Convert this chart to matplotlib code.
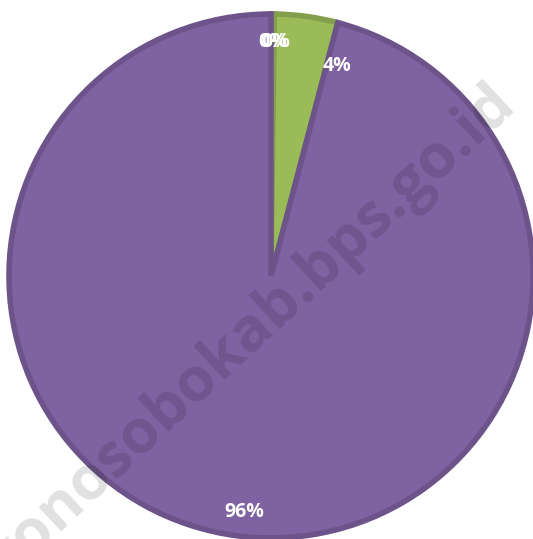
import numpy as np
import matplotlib
matplotlib.use('Agg')
import matplotlib.pyplot as plt
from matplotlib.colors import to_rgb

# Data.
categories = ['A', 'B', 'C', 'D']
values = [0.0, 0.2, 3.9, 95.9]
labels = ['0%', '0%', '4%', '96%']
colors = ['#4F81BD', '#C0504D', '#9BBB59', '#7F62A1']

W, H = 533, 539
cx, cy, R = 271, 276, 262

plt.rcParams['font.family'] = ['Open Sans', 'DejaVu Sans']

fig = plt.figure(figsize=(W / 100, H / 100), dpi=100)
ax = fig.add_axes([0, 0, 1, 1])
ax.axis('off')


def darker(c, f=0.85):
    r, g, b = to_rgb(c)
    return (r * f, g * f, b * f)


wedges, texts = ax.pie(values, colors=colors, startangle=90, counterclock=False,
                       radius=1, center=(0, 0), labels=labels, labeldistance=0.88,
                       wedgeprops=dict(linewidth=4),
                       textprops=dict(color='white', fontsize=14, fontweight='bold',
                                      ha='center', va='center'))
for w, c in zip(wedges, colors):
    w.set_edgecolor(darker(c))
wedges[0].set_edgecolor('none')

# Label placement roughly as in the original (Excel "best fit").
label_pos = [(0.008, 0.893), (0.018, 0.893), (0.252, 0.802), (-0.103, -0.901)]
for t, p in zip(texts, label_pos):
    t.set_position(p)

ax.set_xlim(-cx / R, (W - cx) / R)
ax.set_ylim(-(H - cy) / R, cy / R)
ax.set_aspect('auto')

# Watermark.
fig.text(0.972, 0.800, 'wonosobokab.bps.go.id', rotation=42.8, rotation_mode='anchor',
         ha='right', va='baseline', fontsize=44, fontweight='bold',
         color='black', alpha=0.12)

fig.savefig('out.png', dpi=100)
